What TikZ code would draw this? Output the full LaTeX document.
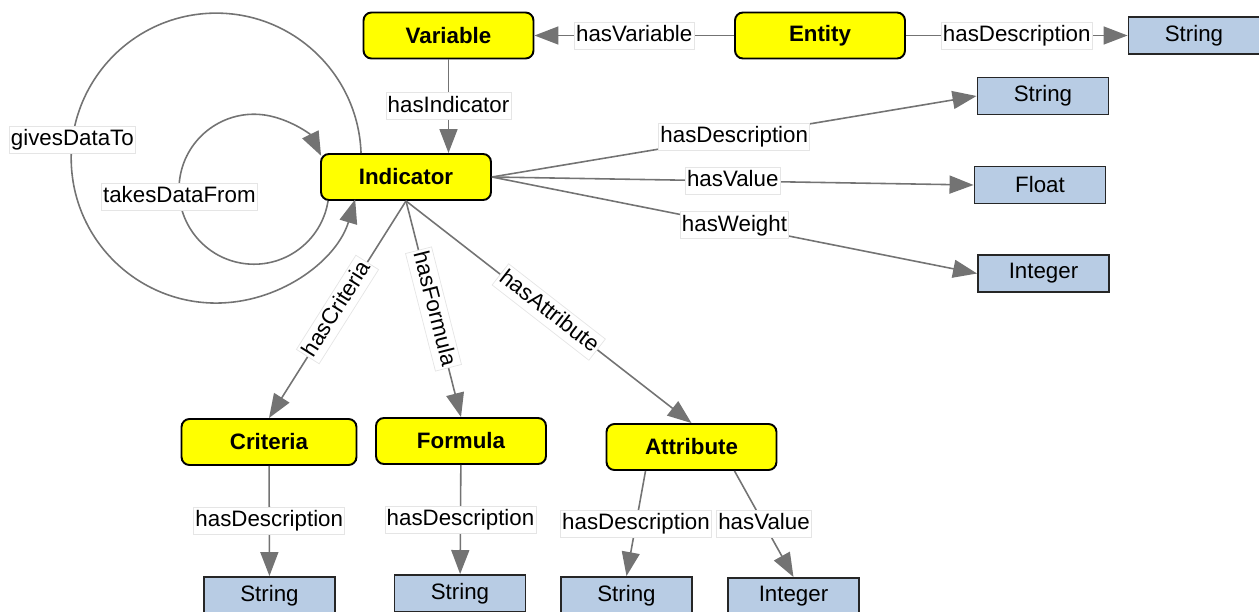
\documentclass[tikz,border=0pt]{standalone}
\usepackage{fontspec}
\setmainfont{Liberation Sans}
\usetikzlibrary{arrows.meta,calc,positioning}
\definecolor{clsyellow}{RGB}{255,255,0}
\definecolor{litblue}{RGB}{184,204,228}
\definecolor{relgray}{RGB}{115,115,115}

\begin{document}
\begin{tikzpicture}[x=0.02cm, y=0.02cm,
  font=\fontsize{12.7}{15}\selectfont,
  cls/.style={draw=black, line width=1.1pt, fill=clsyellow, rounded corners=0.16cm,
    minimum width=3.4cm, minimum height=0.92cm, font=\fontsize{12.7}{15}\selectfont\bfseries},
  lit/.style={draw=black!85, line width=1.1pt, fill=litblue, minimum width=2.62cm, minimum height=0.74cm},
  lbl/.style={fill=white, draw=black!10, line width=0.4pt, inner xsep=1pt, inner ysep=1.5pt,
    text height=9.5pt, text depth=2.8pt},
  rel/.style={draw=relgray, line width=0.9pt, -{Triangle[length=0.48cm, width=0.36cm]}}]
\useasboundingbox (0,0) rectangle (1259,-612);
% classes
\node[cls] (var) at (448.5,-35.5) {Variable};
\node[cls] (ent) at (820,-35.5) {Entity};
\node[cls] (ind) at (406,-177) {Indicator};
\node[cls, minimum width=3.5cm] (crit) at (269,-442) {Criteria};
\node[cls] (form) at (461,-441) {Formula};
\node[cls] (attr) at (691.5,-447) {Attribute};
% literals
\node[lit] (entstr) at (1194,-35.5) {String};
\node[lit] (indstr) at (1043,-96) {String};
\node[lit] (indflt) at (1040,-185) {Float};
\node[lit] (indint) at (1043.5,-273.5) {Integer};
\node[lit] (critstr) at (269.5,-595.5) {String};
\node[lit] (formstr) at (460,-593.5) {String};
\node[lit] (attrstr) at (626.5,-595.5) {String};
\node[lit] (attrint) at (793.5,-596.5) {Integer};
% properties
\draw[rel] (ent) -- node[lbl] {hasVariable} (var);
\draw[rel] (ent) -- node[lbl] {hasDescription} (entstr);
\draw[rel] (var.south) -- node[lbl] {hasIndicator} (var.south |- ind.north);
\draw[rel] (ind.east) -- node[lbl] {hasDescription} (indstr.west);
\draw[rel] (ind.east) -- node[lbl] {hasValue} (indflt.west);
\draw[rel] (ind.east) -- node[lbl] {hasWeight} (indint.west);
\draw[rel] (ind.south) -- node[lbl, sloped] {hasCriteria} (crit.north);
\draw[rel] (ind.south) -- node[lbl, sloped] {hasFormula} (form.north);
\draw[rel] (ind.south) -- node[lbl, sloped] {hasAttribute} (attr.north);
\draw[rel] (crit) -- node[lbl] {hasDescription} (critstr);
\draw[rel] (form) -- node[lbl] {hasDescription} (formstr);
\draw[rel] ([xshift=-0.92cm]attr.south) -- node[lbl] {hasDescription} (attrstr.north);
\draw[rel] ([xshift=0.86cm]attr.south) -- node[lbl] {hasValue} (attrint.north);
% self loops
\draw[rel] ([xshift=0.82cm]ind.north west) arc[start angle=2, end angle=343.5, radius=2.9cm]
  node[lbl, pos=0.5] {givesDataTo};
\draw[rel] ([xshift=0.16cm]ind.south west) arc[start angle=-9, end angle=-333.5, radius=1.5cm]
  node[lbl, pos=0.51] {takesDataFrom};
\end{tikzpicture}
\end{document}
